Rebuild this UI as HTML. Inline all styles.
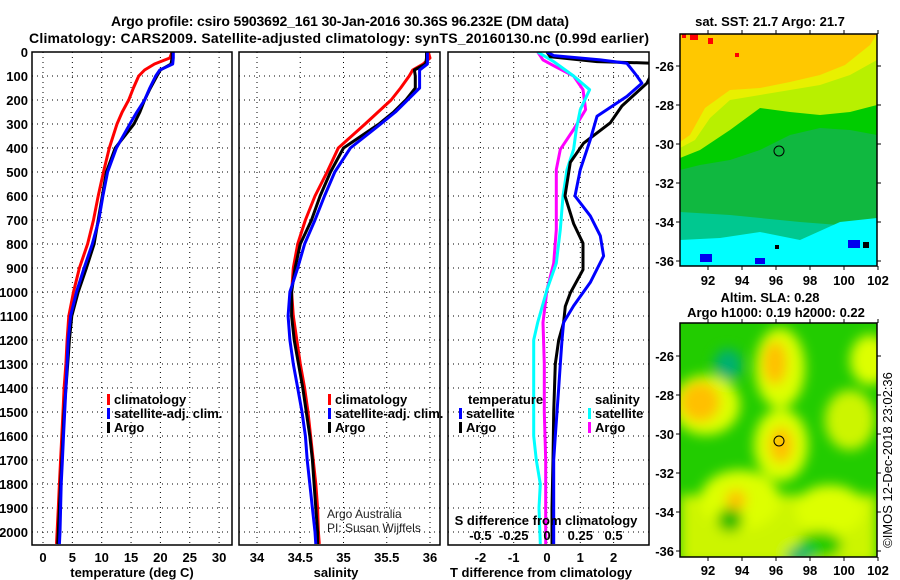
<!DOCTYPE html>
<html><head><meta charset="utf-8"><style>
html,body{margin:0;padding:0;background:#fff}
svg{display:block}
text{font-family:"Liberation Sans",Arial,sans-serif}
.b{font-weight:bold;font-size:13px}
</style></head><body>
<svg id="s" width="900" height="580" xmlns="http://www.w3.org/2000/svg">
<defs>
<filter id="blr" x="-20%" y="-20%" width="140%" height="140%"><feGaussianBlur stdDeviation="6"/></filter>
<clipPath id="c1"><rect x="32" y="52" width="200" height="493"/></clipPath>
<clipPath id="c2"><rect x="239" y="52" width="201" height="493"/></clipPath>
<clipPath id="c3"><rect x="448" y="52" width="201" height="493"/></clipPath>
<clipPath id="cm2"><rect x="680" y="323" width="197" height="234"/></clipPath>
</defs>
<text x="340" y="26" text-anchor="middle" font-size="14" font-weight="bold" textLength="458">Argo profile: csiro 5903692_161 30-Jan-2016 30.36S 96.232E (DM data)</text>
<text x="339" y="43" text-anchor="middle" font-size="14" font-weight="bold" textLength="620">Climatology: CARS2009. Satellite-adjusted climatology: synTS_20160130.nc (0.99d earlier)</text>
<g id="panels"></g>
<g id="maps">
 <text x="770" y="26" text-anchor="middle" class="b">sat. SST: 21.7 Argo: 21.7</text>
 <g>
  <rect x="680" y="34" width="197" height="232" fill="#00c890"/>
  <polygon points="680,34 877,34 877,228 800,222 730,215 680,212" fill="#10b840"/>
  <polygon points="680,34 877,34 877,135 850,130 820,128 790,135 760,150 730,160 700,165 680,170" fill="#00cc00"/>
  <polygon points="680,34 877,34 877,105 850,112 820,115 790,112 760,108 730,130 700,150 680,158" fill="#b8f000"/>
  <polygon points="680,34 877,34 877,60 850,75 820,85 790,90 760,95 730,100 710,118 695,140 680,148" fill="#e8f000"/>
  <polygon points="680,34 877,34 870,45 845,65 820,75 790,82 760,88 730,90 705,108 690,135 680,142" fill="#ffc800"/>
  <polygon points="680,240 720,238 760,232 800,240 840,222 877,218 877,266 680,266" fill="#00ffff"/>
  <rect x="682" y="34" width="4" height="4" fill="#ff0000"/><rect x="690" y="34" width="8" height="6" fill="#ff0000"/><rect x="708" y="38" width="5" height="6" fill="#ff0000"/><rect x="735" y="53" width="4" height="4" fill="#ff0000"/>
  <rect x="775" y="245" width="4" height="4" fill="#000"/><rect x="863" y="242" width="6" height="6" fill="#000"/><rect x="848" y="240" width="12" height="8" fill="#0000ee"/>
  <rect x="700" y="254" width="12" height="8" fill="#0000ee"/><rect x="755" y="258" width="10" height="6" fill="#0000ee"/>
  <circle cx="779" cy="151" r="5" fill="none" stroke="#000" stroke-width="1"/>
  <rect x="680" y="34" width="197" height="232" fill="none" stroke="#000" stroke-width="1.5"/>
 </g>
 <g id="m1ticks"></g>
 <text x="770" y="302" text-anchor="middle" class="b">Altim. SLA: 0.28</text>
 <text x="776" y="317" text-anchor="middle" class="b">Argo h1000: 0.19 h2000: 0.22</text>
 <g>
  <rect x="680" y="323" width="197" height="234" fill="#22cc00"/>
  <g clip-path="url(#cm2)"><g filter="url(#blr)">
   <ellipse cx="780" cy="368" rx="25" ry="40" fill="#ddff00"/>
   <ellipse cx="706" cy="405" rx="34" ry="30" fill="#ddff00"/>
   <ellipse cx="781" cy="445" rx="27" ry="36" fill="#ddff00"/>
   <ellipse cx="870" cy="360" rx="20" ry="25" fill="#ddff00"/>
   <ellipse cx="850" cy="420" rx="25" ry="30" fill="#ccf500"/>
   <rect x="680" y="495" width="197" height="70" fill="#ccf500"/>
   <ellipse cx="740" cy="500" rx="40" ry="30" fill="#ddff00"/>
   <ellipse cx="830" cy="510" rx="35" ry="25" fill="#ddff00"/>
   <ellipse cx="775" cy="363" rx="12" ry="22" fill="#ffc000"/>
   <ellipse cx="700" cy="402" rx="20" ry="20" fill="#ffc000"/>
   <ellipse cx="781" cy="445" rx="12" ry="18" fill="#ffc000"/>
   <ellipse cx="736" cy="500" rx="10" ry="10" fill="#ffc000"/>
   <ellipse cx="728" cy="365" rx="14" ry="16" fill="#00b070"/>
   <ellipse cx="730" cy="520" rx="13" ry="12" fill="#22bb00"/>
   <ellipse cx="820" cy="545" rx="22" ry="14" fill="#22cc00"/>
   <ellipse cx="800" cy="555" rx="14" ry="8" fill="#00b070"/>
  </g></g>
  <circle cx="779" cy="441" r="5" fill="none" stroke="#000" stroke-width="1"/>
  <rect x="680" y="323" width="197" height="234" fill="none" stroke="#000" stroke-width="1.5"/>
 </g>
 <g id="m2ticks"></g>
 <text transform="translate(892,460) rotate(-90)" text-anchor="middle" font-size="13">©IMOS 12-Dec-2018 23:02:36</text>
</g>
</svg>
<script>
// ---- data ----
const depthGrid=[0,25,50,75,100,150,200,250,300,400,500,600,700,800,900,1000,1100,1200,1300,1400,1500,1600,1700,1800,1900,2000,2050];
const tempClim=[22,21.6,19,17.3,16.3,15.4,14.6,13.5,12.6,11.3,10.3,9.4,8.6,7.6,6.2,5.2,4.4,4.1,3.9,3.6,3.4,3.2,3.0,2.8,2.6,2.4,2.3];
const tempSat=[22.2,22.2,22.1,19.9,19.2,18.2,17.3,16.0,14.8,12.5,11.0,10.2,9.5,8.4,7.0,5.7,4.7,4.3,4.1,3.9,3.7,3.5,3.3,3.1,3.0,2.9,2.8];
const tempArgo=[22,22,21.8,20.0,19.4,18.3,17.3,16.5,15.5,12.3,10.8,10.1,9.4,8.7,7.4,6.0,4.9,4.5,4.2,3.9,3.6,3.4,3.2,3.0,2.8,2.6,2.5];
const salClim=[35.98,36.0,35.92,35.8,35.76,35.66,35.55,35.4,35.25,34.94,34.81,34.67,34.56,34.47,34.42,34.40,34.42,34.46,34.50,34.55,34.59,34.62,34.65,34.68,34.70,34.71,34.72];
const salSat=[35.97,35.97,35.97,35.88,35.88,35.88,35.74,35.6,35.43,35.08,34.9,34.78,34.67,34.55,34.47,34.38,34.36,34.38,34.42,34.47,34.52,34.56,34.58,34.61,34.64,34.67,34.68];
const salArgo=[35.96,35.96,35.95,35.82,35.83,35.83,35.72,35.58,35.41,35.0,34.85,34.73,34.63,34.5,34.44,34.40,34.40,34.43,34.48,34.53,34.57,34.61,34.64,34.66,34.68,34.70,34.70];
const tdArgoDepth=[0,20,40,47,130,225,295,380,460,600,715,797,907,1004,1060,1128,1200,1300,1500,1700,1900,2050];
const tdArgo=[0.0,0.1,1.5,3.3,3.0,2.25,1.9,1.1,0.7,0.54,0.8,1.08,1.08,0.7,0.55,0.5,0.35,0.25,0.2,0.18,0.15,0.15];
const tdSatDepth=[0,15,33,47,100,130,185,268,365,490,600,683,766,850,960,1058,1127,1200,1300,1400,1500,1600,1700,1800,1900,2050];
const tdSat=[0.0,0.2,1.6,2.4,2.7,2.85,2.4,1.5,1.3,1.0,0.84,1.3,1.6,1.7,1.3,0.8,0.5,0.45,0.4,0.35,0.3,0.25,0.2,0.2,0.2,0.2];
const sdArgoDepth=[0,33,60,100,157,240,323,406,490,740,880,990,1127,1300,1500,1700,1900,2050];
const sdArgo=[-0.07,-0.03,0.06,0.2,0.27,0.29,0.2,0.1,0.07,0.07,0.05,0,-0.03,-0.02,-0.02,-0.01,-0.01,-0.01];
const sdSatDepth=[0,40,100,157,240,323,406,490,600,740,880,990,1127,1200,1400,1600,1700,1800,1900,2050];
const sdSat=[-0.07,0.05,0.2,0.32,0.25,0.22,0.2,0.15,0.12,0.1,0.07,0,-0.07,-0.1,-0.1,-0.1,-0.08,-0.05,-0.06,-0.05];
const depthTicks=[0,100,200,300,400,500,600,700,800,900,1000,1100,1200,1300,1400,1500,1600,1700,1800,1900,2000];
const tempTicks=[0,5,10,15,20,25,30];
const salTicks=[34,34.5,35,35.5,36];
const tdTicks=[-2,-1,0,1,2];
const sdTicks=[-0.5,-0.25,0,0.25,0.5];
const lonTicks=[92,94,96,98,100,102];
const latTicks=[-26,-28,-30,-32,-34,-36];
// ---- scales ----
const NS='http://www.w3.org/2000/svg';
const yD=d=>52+d*0.24;
const xT=v=>43+v*5.87;
const xS=v=>257+(v-34)*86.5;
const xTD=v=>547+v*33.3;
const xSD=v=>547+v*133.2;
function mk(tag,attrs,parent,txt){const e=document.createElementNS(NS,tag);for(const k in attrs)e.setAttribute(k,attrs[k]);if(txt!==undefined)e.textContent=txt;parent.appendChild(e);return e;}
const P=document.getElementById('panels');
const panels=[{x0:32,x1:232,clip:'c1',name:'temperature-panel'},{x0:239,x1:440,clip:'c2',name:'salinity-panel'},{x0:448,x1:649,clip:'c3',name:'difference-panel'}];
panels.forEach((p,i)=>{
  const g=mk('g',{},P);
  
  
  depthTicks.forEach(d=>{const l=mk('line',{x1:p.x0,x2:p.x1,y1:yD(d),y2:yD(d),stroke:'#000','stroke-width':1,'stroke-dasharray':'1,4'},g);
    
    });
  const xt=i==0?tempTicks.map(xT):i==1?salTicks.map(xS):tdTicks.map(xTD);
  xt.forEach(x=>{const l=mk('line',{x1:x,x2:x,y1:52,y2:545,stroke:'#000','stroke-width':1,'stroke-dasharray':'1,4'},g);
    
    });
  p.g=g;
});
depthTicks.forEach(d=>{const t=mk('text',{x:28,y:yD(d)+5,'text-anchor':'end',class:'b'},P,String(d));
  
  });
function line(g,clip,depths,vals,xf,color,name){
  const pts=depths.map((d,k)=>xf(vals[k]).toFixed(1)+','+yD(d).toFixed(1)).join(' ');
  const l=mk('polyline',{points:pts,fill:'none',stroke:color,'stroke-width':3,'clip-path':'url(#'+clip+')','stroke-linejoin':'round'},g);
  
  
}
const g0=panels[0].g,g1=panels[1].g,g2=panels[2].g;
line(g0,'c1',depthGrid,tempClim,xT,'#ff0000','temp-climatology-line');
line(g0,'c1',depthGrid,tempArgo,xT,'#000','temp-argo-line');
line(g0,'c1',depthGrid,tempSat,xT,'#0000ff','temp-satellite-line');
line(g1,'c2',depthGrid,salClim,xS,'#ff0000','sal-climatology-line');
line(g1,'c2',depthGrid,salArgo,xS,'#000','sal-argo-line');
line(g1,'c2',depthGrid,salSat,xS,'#0000ff','sal-satellite-line');
line(g2,'c3',sdArgoDepth,sdArgo,xSD,'#ff00ff','sdiff-argo-line');
line(g2,'c3',sdSatDepth,sdSat,xSD,'#00ffff','sdiff-satellite-line');
line(g2,'c3',tdArgoDepth,tdArgo,xTD,'#000','tdiff-argo-line');
line(g2,'c3',tdSatDepth,tdSat,xTD,'#0000ff','tdiff-satellite-line');
panels.forEach(p=>{const r=mk('rect',{x:p.x0,y:52,width:p.x1-p.x0,height:493,fill:'none',stroke:'#000','stroke-width':1.5},p.g);
  
  });
function tickLabels(vals,xf,y,fmt){vals.forEach(v=>{const t=mk('text',{x:xf(v),y:y,'text-anchor':'middle',class:'b'},P,fmt(v));
  
  });}
tickLabels(tempTicks,xT,562,v=>String(v));
tickLabels(salTicks,xS,562,v=>String(v));
tickLabels(tdTicks,xTD,562,v=>String(v));
tickLabels(sdTicks,xSD,540,v=>String(v));
[[132,'temperature (deg C)','temperature-axis-title'],[336,'salinity','salinity-axis-title'],[541,'T difference from climatology','tdiff-axis-title'],[546,'S difference from climatology','sdiff-axis-title']].forEach((a,k)=>{
  const t=mk('text',{x:a[0],y:k==3?525:577,'text-anchor':'middle',class:'b'},P,a[1]);
  
  });
function legend(x,y,color,label,name){
  const g=mk('g',{},P);
  
  
  mk('rect',{x:x,y:y-10,width:3,height:11,fill:color},g);
  mk('text',{x:x+7,y:y,class:'b'},g,label);
}
legend(107,404,'#ff0000','climatology','legend-climatology');
legend(107,418,'#0000ff','satellite-adj. clim.','legend-satellite');
legend(107,432,'#000','Argo','legend-argo');
legend(328,404,'#ff0000','climatology','legend-sal-climatology');
legend(328,418,'#0000ff','satellite-adj. clim.','legend-sal-satellite');
legend(328,432,'#000','Argo','legend-sal-argo');
legend(459,418,'#0000ff','satellite','legend-tdiff-satellite');
legend(459,432,'#000','Argo','legend-tdiff-argo');
legend(588,418,'#00ffff','satellite','legend-sdiff-satellite');
legend(588,432,'#ff00ff','Argo','legend-sdiff-argo');
[[468,404,'temperature','legend-temperature-heading'],[595,404,'salinity','legend-salinity-heading']].forEach(a=>{
  const t=mk('text',{x:a[0],y:a[1],class:'b'},P,a[2]);
  
  });
[[327,518,'Argo Australia','argo-australia-credit'],[327,532,'PI: Susan Wijffels','pi-credit']].forEach(a=>{
  const t=mk('text',{x:a[0],y:a[1],'font-size':12,fill:'#222'},P,a[2]);
  
  });
// map ticks
function mapTicks(id,top,bottom,lat0y,labelY){
  const g=document.getElementById(id);
  latTicks.forEach(v=>{const y=lat0y+(-26-v)*19.5;
    mk('line',{x1:676,x2:680,y1:y,y2:y,stroke:'#000'},g);
    mk('line',{x1:877,x2:881,y1:y,y2:y,stroke:'#000'},g);
    const t=mk('text',{x:674,y:y+5,'text-anchor':'end',class:'b'},g,String(v));
    
    });
  lonTicks.forEach(v=>{const x=708+(v-92)*17;
    mk('line',{x1:x,x2:x,y1:bottom,y2:bottom+4,stroke:'#000'},g);
    mk('line',{x1:x,x2:x,y1:top-4,y2:top,stroke:'#000'},g);
    const t=mk('text',{x:x,y:labelY,'text-anchor':'middle',class:'b'},g,String(v));
    
    });
}
mapTicks('m1ticks',34,266,66,285);
mapTicks('m2ticks',323,557,356,575);
</script>
</body></html>
